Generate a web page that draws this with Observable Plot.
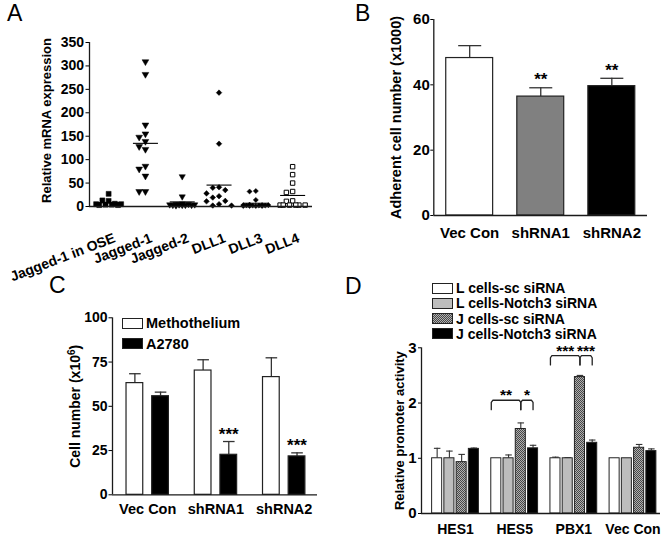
<!DOCTYPE html>
<html><head><meta charset="utf-8">
<script src="https://cdn.jsdelivr.net/npm/d3@7"></script>
<script src="https://cdn.jsdelivr.net/npm/@observablehq/plot@0.6"></script>
<style>
body{margin:0;background:#fff;}
#fig{position:relative;width:668px;height:537px;background:#fff;font-family:"Liberation Sans",Arial,sans-serif;overflow:hidden;color:#000}
.letter{position:absolute;font-size:23px;line-height:1;}
.legend{position:absolute;font-weight:bold;line-height:1;}
.legend .item{position:absolute;left:0;white-space:nowrap;display:flex;align-items:center}
.legend svg{display:block;margin-right:3px}
</style></head><body>
<svg width="0" height="0" style="position:absolute">
  <defs>
    <pattern id="hatch" width="2" height="2" patternUnits="userSpaceOnUse">
      <rect width="2" height="2" fill="#b0b0b0"></rect>
      <rect x="0" y="0" width="1" height="1" fill="#474747"></rect>
      <rect x="1" y="1" width="1" height="1" fill="#474747"></rect>
    </pattern>
  </defs>
</svg>
<div id="fig"></div>
<script>
// ---------- DATA ----------
// Panel A
const catsA = ["Jagged-1 in OSE", "Jagged-1", "Jagged-2", "DLL1", "DLL3", "DLL4"];
const valsOSE = [27, 13, 12, 6, 5, 5, 4, 4, 3, 3];
const valsJag1 = [309, 282, 174, 155, 148, 139, 128, 122, 86, 80, 65, 32, 32];
const valsJag2 = [64, 21, 6, 5, 5, 4, 4, 4, 3, 3, 3, 3, 2];
const valsDLL1 = [243, 134, 41, 40, 35, 28, 22, 19, 12, 11, 5, 2, 2];
const valsDLL3 = [33, 32, 14, 4, 3, 3, 3, 2, 2, 2, 2, 1, 1, 1, 1];
const valsDLL4 = [85, 68, 50, 32, 30, 12, 11, 3, 3, 3, 3, 3, 3];
const ticksA = [0, 50, 100, 150, 200, 250, 300, 350];
const labelA = "Relative mRNA expression";

// Panel B
const catsB = ["Vec Con", "shRNA1", "shRNA2"];
const meanB = [48.2, 36.4, 39.6];
const errB = [3.8, 2.7, 2.4];
const starsB = ["", "**", "**"];
const ticksB = [0, 20, 40, 60];
const labelB = "Adherent cell number (x1000)";

// Panel C
const catsC = ["Vec Con", "shRNA1", "shRNA2"];
const seriesC = ["Methothelium", "A2780"];
const methMean = [63.1, 70.2, 66.5];
const methErr = [5.3, 6.1, 10.9];
const a2780Mean = [55.7, 22.6, 21.7];
const a2780Err = [2.3, 7.5, 2.0];
const starsC = ["", "***", "***"];
const ticksC = [0, 25, 50, 75, 100];
const labelC = "Cell number (x10";
const labelCSup = "6";

// Panel D
const catsD = ["HES1", "HES5", "PBX1", "Vec Con"];
const seriesD = ["L cells-sc siRNA", "L cells-Notch3 siRNA", "J cells-sc siRNA", "J cells-Notch3 siRNA"];
const lscMean = [1.0, 1.0, 1.0, 1.0];
const lscErr = [0.18, 0, 0.02, 0];
const ln3Mean = [1.0, 1.0, 1.0, 1.0];
const ln3Err = [0.13, 0.06, 0.01, 0];
const jscMean = [0.93, 1.53, 2.47, 1.19];
const jscErr = [0.14, 0.11, 0.03, 0.06];
const jn3Mean = [1.17, 1.18, 1.28, 1.13];
const jn3Err = [0.015, 0.055, 0.05, 0.04];
const ticksD = [0, 1, 2, 3];
const labelD = "Relative promoter activity";
const bracketGroups = ["HES5", "PBX1"];
const bracketLevels = [2.05, 2.86];
const bracketLeftStars = ["**", "***"];
const bracketRightStars = ["*", "***"];

// ---------- DRAWING ----------
const FONT = '"Liberation Sans", Arial, sans-serif';
const fig = document.getElementById("fig");
function place(el, left, top) {
  el.style.position = "absolute";
  el.style.left = left + "px";
  el.style.top = top + "px";
  fig.appendChild(el);
}
const baseStyle = {fontFamily: FONT, fontSize: "14px", fontWeight: "bold", background: "transparent", overflow: "visible", color: "#000"};
const AX = "#1a1a1a";
const ERR = "#333";

function letter(t, x, y) {
  const d = document.createElement("div");
  d.className = "letter"; d.textContent = t;
  place(d, x, y);
}
function legend(items, fills, x, y, rowStep, boxW, boxH, fontSize) {
  const L = document.createElement("div");
  L.className = "legend";
  L.style.fontSize = fontSize + "px";
  items.forEach((t, i) => {
    const it = document.createElement("div");
    it.className = "item";
    it.style.top = (i * rowStep) + "px";
    it.innerHTML = `<svg width="${boxW + 1}" height="${boxH + 1}"><rect x="0.5" y="0.5" width="${boxW}" height="${boxH}" fill="${fills[i]}" stroke="#222" stroke-width="1"></rect></svg><span>${t}</span>`;
    L.appendChild(it);
  });
  place(L, x, y);
}
function yLabel(text, dx, dy, size) {
  return Plot.text([text], {frameAnchor: "left", text: d => d, rotate: -90, textAnchor: "middle", dx, dy, fontSize: size});
}

// ----- Panel A -----
const seriesA = [valsOSE, valsJag1, valsJag2, valsDLL1, valsDLL3, valsDLL4];
const slotW = 0.17, thr = 15, slotOrder = [0, -1, 1, -2, 2, -0.5, 0.5, -1.5, 1.5];
const ptsA = [];
seriesA.forEach((vals, i) => {
  const placed = [];
  [...vals].sort((a, b) => b - a).forEach(v => {
    const conflicts = slotOrder.map(s => placed.filter(p => p.s === s && Math.abs(p.v - v) < thr).length);
    const best = d3.minIndex(conflicts); // first slot with fewest conflicts
    placed.push({s: slotOrder[best], v});
  });
  placed.forEach(p => ptsA.push({i, v: p.v, x: i + p.s * slotW}));
});
const meansA = seriesA.map((vals, i) => ({i, m: d3.mean(vals)}));
const triDown = {draw(ctx, size) {
  const k = Math.sqrt(size / 1.732);
  ctx.moveTo(-k, -k * 0.577); ctx.lineTo(k, -k * 0.577); ctx.lineTo(0, k * 1.155); ctx.closePath();
}};
const symA = ["square", triDown, triDown, "diamond2", "diamond2", "square"];
const rA = [2.8, 2.5, 2.3, 2.5, 2.3, 2.5];
const fillA = ["black", "black", "black", "black", "black", "white"];
const xDomA = [-0.52, 5.54];
const plotA = Plot.plot({
  width: 334, height: 270, marginLeft: 89, marginRight: 22, marginTop: 42, marginBottom: 64,
  x: {domain: xDomA, axis: null}, y: {domain: [0, 350], label: null},
  style: baseStyle,
  marks: [
    Plot.axisY({ticks: ticksA, tickSize: 3.5, tickPadding: 2, label: null, tickFormat: d => d}),
    ...seriesA.map((_, i) => Plot.dot(ptsA.filter(p => p.i === i), {
      x: "x", y: "v", symbol: symA[i], r: rA[i], fill: fillA[i], stroke: "black", strokeWidth: i === 5 ? 1 : 0.5
    })),
    Plot.link(meansA, {x1: d => d.i - 0.34, x2: d => d.i + 0.34, y1: "m", y2: "m", stroke: "black", strokeWidth: 1.1}),
    Plot.ruleY([0], {stroke: AX, strokeWidth: 1.3}),
    Plot.ruleX([xDomA[0]], {stroke: AX, strokeWidth: 1.3}),
    Plot.text(catsA, {x: (d, i) => i, y: () => 0, text: d => d, rotate: -21, textAnchor: "end", dx: 6, dy: 31, fontSize: 14}),
    yLabel(labelA, -43, -4, 13)
  ]
});
place(plotA, 0, 0);
letter("A", 7, 2);

// ----- Panel B -----
const dataB = catsB.map((c, i) => ({i, cat: c, v: meanB[i], top: meanB[i] + errB[i], star: starsB[i]}));
const xDomB = [-0.505, 2.502];
const plotB = Plot.plot({
  width: 334, height: 270, marginLeft: 99.3, marginRight: 21, marginTop: 19, marginBottom: 55,
  x: {domain: xDomB}, y: {domain: [0, 60], label: null},
  color: {type: "ordinal", domain: catsB, range: ["white", "#808080", "black"]},
  style: baseStyle,
  marks: [
    Plot.axisY({ticks: ticksB, tickSize: 3, tickPadding: 1, label: null, fontSize: 15, tickFormat: d => d}),
    Plot.axisX({ticks: [0, 1, 2], tickFormat: i => catsB[i], tickSize: 0, tickPadding: 12, label: null, fontSize: 15}),
    Plot.ruleX(dataB, {x: "i", y1: "v", y2: "top", stroke: ERR, strokeWidth: 1.3}),
    Plot.link(dataB, {x1: d => d.i - 0.162, x2: d => d.i + 0.162, y1: "top", y2: "top", stroke: ERR, strokeWidth: 1.3}),
    Plot.rect(dataB, {x1: d => d.i - 0.33, x2: d => d.i + 0.33, y1: () => 0, y2: "v", fill: "cat", stroke: "#222", strokeWidth: 1.2}),
    Plot.text(dataB, {x: "i", y: "top", text: "star", dy: -8, fontSize: 17}),
    Plot.ruleY([0], {stroke: AX, strokeWidth: 1.3}),
    Plot.ruleX([xDomB[0]], {stroke: AX, strokeWidth: 1.3}),
    yLabel(labelB, -37, 0, 14.5)
  ]
});
place(plotB, 334, 0);
letter("B", 355, 2);

// ----- Panel C -----
const offC = [-0.188, 0.188], wC = 0.245;
const dataC = [];
catsC.forEach((c, g) => {
  dataC.push({g, s: 0, series: seriesC[0], x: g + offC[0], v: methMean[g], top: methMean[g] + methErr[g], star: ""});
  dataC.push({g, s: 1, series: seriesC[1], x: g + offC[1], v: a2780Mean[g], top: a2780Mean[g] + a2780Err[g], star: starsC[g]});
});
const xDomC = [-0.516, 2.488];
const plotC = Plot.plot({
  width: 334, height: 267, marginLeft: 112, marginRight: 17, marginTop: 47.3, marginBottom: 42.7,
  x: {domain: xDomC}, y: {domain: [0, 100], label: null},
  color: {type: "ordinal", domain: seriesC, range: ["white", "black"]},
  style: baseStyle,
  marks: [
    Plot.axisY({ticks: ticksC, tickSize: 3.5, tickPadding: 1.5, label: null, tickFormat: d => d}),
    Plot.axisX({ticks: [0, 1, 2], tickFormat: i => catsC[i], tickSize: 0, tickPadding: 9, label: null, fontSize: 14.5}),
    Plot.ruleX(dataC, {x: "x", y1: "v", y2: "top", stroke: ERR, strokeWidth: 1.3}),
    Plot.link(dataC, {x1: d => d.x - 0.085, x2: d => d.x + 0.085, y1: "top", y2: "top", stroke: ERR, strokeWidth: 1.3}),
    Plot.rect(dataC, {x1: d => d.x - wC / 2, x2: d => d.x + wC / 2, y1: () => 0, y2: "v", fill: "series", stroke: "#222", strokeWidth: 1.2}),
    Plot.text(dataC, {x: "x", y: "top", text: "star", dy: -7, fontSize: 17}),
    Plot.ruleY([0], {stroke: AX, strokeWidth: 1.3}),
    Plot.ruleX([xDomC[0]], {stroke: AX, strokeWidth: 1.3}),
    yLabel(labelC + labelCSup + ")", -37, 0, 14)
  ]
});
// render the exponent as a raised, smaller character
plotC.querySelectorAll("text").forEach(t => {
  if (t.textContent === labelC + labelCSup + ")") {
    const NS = "http://www.w3.org/2000/svg";
    t.textContent = labelC;
    const sup = document.createElementNS(NS, "tspan");
    sup.setAttribute("dy", "-4.5px"); sup.setAttribute("font-size", "10px"); sup.textContent = labelCSup;
    const close = document.createElementNS(NS, "tspan");
    close.setAttribute("dy", "4.5px"); close.textContent = ")";
    t.appendChild(sup); t.appendChild(close);
  }
});
place(plotC, 0, 270);
letter("C", 49, 274);
legend(seriesC, ["white", "black"], 122, 316, 20.5, 20, 10, 14.5);

// ----- Panel D -----
const stepD = 0.207, wD = 0.17;
const meansD = [lscMean, ln3Mean, jscMean, jn3Mean];
const errsD = [lscErr, ln3Err, jscErr, jn3Err];
const xOfD = (g, s) => g + (s - 1.5) * stepD;
const dataD = [];
catsD.forEach((c, g) => seriesD.forEach((sr, s) => {
  dataD.push({g, s, series: sr, x: xOfD(g, s), v: meansD[s][g], e: errsD[s][g], top: meansD[s][g] + errsD[s][g]});
}));
const errD = dataD.filter(d => d.e > 0);
const drop = 0.17;
const bracketLines = [], bracketText = [];
bracketGroups.forEach((name, k) => {
  const g = catsD.indexOf(name), L = bracketLevels[k];
  const xL = xOfD(g, 0) - wD / 2, xM = xOfD(g, 2), xR = xOfD(g, 3);
  [[xL, xM], [xM, xR]].forEach(([a, b], j) => {
    const id = k * 2 + j;
    [[a, L - drop], [a, L - 0.04], [a + 0.025, L], [b - 0.025, L], [b, L - 0.04], [b, L - drop]]
      .forEach(([x, y]) => bracketLines.push({id, x, y}));
    bracketText.push({x: (a + b) / 2, y: L, t: j === 0 ? bracketLeftStars[k] : bracketRightStars[k]});
  });
});
const xDomD = [-0.575, 3.465];
const plotD = Plot.plot({
  width: 334, height: 267, marginLeft: 87, marginRight: 8, marginTop: 77.3, marginBottom: 24,
  x: {domain: xDomD}, y: {domain: [0, 3], label: null},
  color: {type: "ordinal", domain: seriesD, range: ["white", "#bdbdbd", "url(#hatch)", "black"]},
  style: baseStyle,
  marks: [
    Plot.axisY({ticks: ticksD, tickSize: 3, tickPadding: 2, label: null, fontSize: 15, tickFormat: d => d}),
    Plot.axisX({ticks: [0, 1, 2, 3], tickFormat: i => catsD[i], tickSize: 0, tickPadding: 11, label: null}),
    Plot.ruleX(errD, {x: "x", y1: "v", y2: "top", stroke: ERR, strokeWidth: 1.1}),
    Plot.link(errD, {x1: d => d.x - 0.055, x2: d => d.x + 0.055, y1: "top", y2: "top", stroke: ERR, strokeWidth: 1.1}),
    Plot.rect(dataD, {x1: d => d.x - wD / 2, x2: d => d.x + wD / 2, y1: () => 0, y2: "v", fill: "series", stroke: "#222", strokeWidth: 1}),
    Plot.line(bracketLines, {x: "x", y: "y", z: "id", stroke: "#222", strokeWidth: 1.3}),
    Plot.text(bracketText, {x: "x", y: "y", text: "t", fontSize: 15.5, dy: -5}),
    Plot.ruleY([0], {stroke: AX, strokeWidth: 1.3}),
    Plot.ruleX([xDomD[0]], {stroke: AX, strokeWidth: 1.3}),
    yLabel(labelD, -22, 0, 13)
  ]
});
place(plotD, 334, 270);
letter("D", 345, 275);
legend(seriesD, ["white", "#bdbdbd", "url(#hatch)", "black"], 432, 281, 15.3, 20, 10, 14);
</script>
</body></html>
